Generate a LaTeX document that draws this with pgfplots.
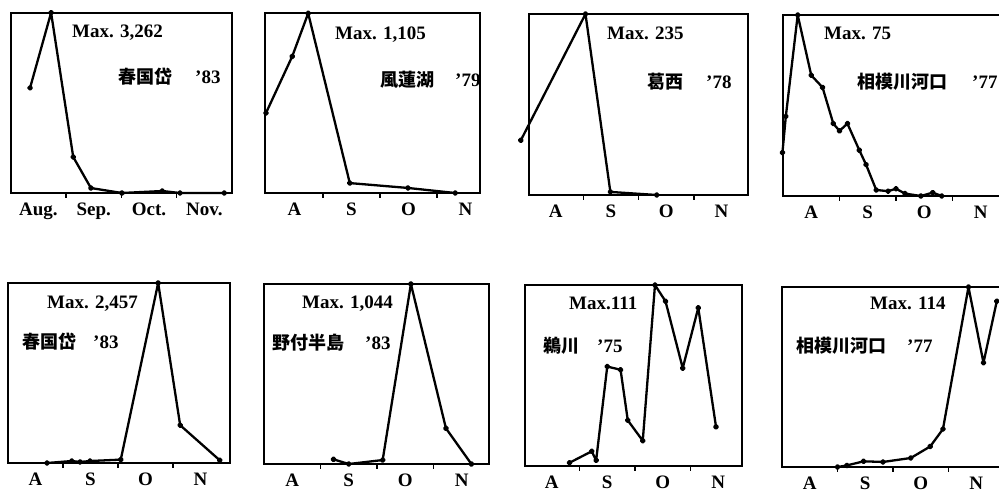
\documentclass[border=0pt]{standalone}
\usepackage{pgfplots}
\pgfplotsset{compat=1.18}
\usepackage{fontspec}
\setmainfont{Liberation Serif}
\newfontfamily\cjk{Noto Sans CJK JP}
\newcommand\lab{\fontsize{19}{19}\selectfont\bfseries}
\newcommand\cj{\fontsize{18}{18}\selectfont\cjk\bfseries}
\pgfplotsset{
  panel/.style={
    scale only axis, anchor=south west, clip=false,
    ymin=0,
    axis line style={line width=2pt},
    xtick={0.5,1.5,2.5,3.5},
    xticklabels={A,S,O,N},
    major tick length=0pt,
    minor xtick={1,2,3},
    minor tick length=4.5pt,
    minor tick style={line width=1.4pt, black},
    tick align=outside,
    xtick pos=lower,
    ytick=\empty,
    xticklabel style={font=\lab, yshift=-6.5pt},
  },
  dat/.style={line width=2.3pt, black, line join=round, mark=*, mark size=1.8pt, mark options={solid, fill=black}},
}
\begin{document}
\begin{tikzpicture}
% Row 1
\begin{axis}[panel, at={(10.7pt,298pt)}, width=221.3pt, height=180.3pt, xmin=0, xmax=4.0, ymax=3262,
  xticklabels={Aug.,Sep.,Oct.,Nov.}]
\addplot[dat] coordinates {(0.35,1902) (0.73,3262) (1.13,652) (1.45,90) (2.01,0) (2.74,36) (3.06,0) (3.86,0)};
\end{axis}
\begin{axis}[panel, at={(265pt,298pt)}, width=215pt, height=179.7pt, xmin=-0.0175, xmax=3.754, ymax=1105]
\addplot[dat] coordinates {(0,492) (0.46,840) (0.74,1105) (1.47,61) (2.49,31) (3.32,0)};
\end{axis}
\begin{axis}[panel, at={(529pt,296pt)}, width=219pt, height=181pt, xmin=0.018, xmax=3.98, ymax=235]
\addplot[dat] coordinates {(-0.13,71) (1.04,235) (1.49,4) (2.33,0)};
\end{axis}
\begin{axis}[panel, at={(783pt,295pt)}, width=218pt, height=181pt, xmin=0, xmax=3.858, ymax=75]
\addplot[dat] coordinates {(-0.01,18) (0.05,33) (0.26,75) (0.50,50) (0.70,45) (0.89,30) (1.0,27) (1.14,30) (1.35,19) (1.47,13) (1.65,2.5) (1.86,2) (2.0,3) (2.16,1) (2.44,0) (2.65,1.4) (2.81,0)};
\end{axis}
% Row 2
\begin{axis}[panel, at={(8pt,28pt)}, width=222pt, height=180pt, xmin=0, xmax=4.036, ymax=2457]
\addplot[dat] coordinates {(0.71,0) (1.16,27) (1.31,14) (1.49,27) (2.05,46) (2.73,2457) (3.13,516) (3.85,37)};
\end{axis}
\begin{axis}[panel, at={(264pt,27pt)}, width=225pt, height=180pt, xmin=0, xmax=3.982, ymax=1044]
\addplot[dat] coordinates {(1.23,27) (1.50,0) (2.10,23) (2.60,1044) (3.22,207) (3.67,0)};
\end{axis}
\begin{axis}[panel, at={(525pt,25pt)}, width=217pt, height=181pt, xmin=0.018, xmax=3.928, ymax=111]
\addplot[dat] coordinates {(0.82,2) (1.22,9) (1.30,3.5) (1.50,61) (1.74,59) (1.87,28) (2.14,15.5) (2.36,111) (2.55,101) (2.86,60) (3.14,97) (3.46,24)};
\end{axis}
\begin{axis}[panel, at={(782pt,24pt)}, width=219pt, height=180pt, xmin=0, xmax=3.946, ymax=114]
\addplot[dat] coordinates {(1.0,0) (1.17,1) (1.47,3.6) (1.82,3.2) (2.32,5.7) (2.67,13) (2.90,24) (3.36,114) (3.63,66) (3.87,105)};
\end{axis}
% annotations
\tikzset{lb/.style={anchor=base west, inner sep=0pt}}
\node[lb] at (72pt,453.5pt) {\lab Max. 3,262};
\node[lb] at (118pt,407.5pt) {\cj 春国岱};
\node[lb] at (195pt,407.5pt) {\lab ’83};
\node[lb] at (335pt,451.5pt) {\lab Max. 1,105};
\node[lb] at (380pt,404.5pt) {\cj 風蓮湖};
\node[lb] at (455pt,404.5pt) {\lab ’79};
\node[lb] at (607pt,451.5pt) {\lab Max. 235};
\node[lb] at (647pt,402.5pt) {\cj 葛西};
\node[lb] at (706pt,402.5pt) {\lab ’78};
\node[lb] at (824pt,451.5pt) {\lab Max. 75};
\node[lb] at (857pt,402.5pt) {\cj 相模川河口};
\node[lb] at (972pt,402.5pt) {\lab ’77};
\node[lb] at (47pt,182.5pt) {\lab Max. 2,457};
\node[lb] at (22pt,142.5pt) {\cj 春国岱};
\node[lb] at (93pt,142.5pt) {\lab ’83};
\node[lb] at (302pt,182.5pt) {\lab Max. 1,044};
\node[lb] at (272pt,141.5pt) {\cj 野付半島};
\node[lb] at (365pt,141.5pt) {\lab ’83};
\node[lb] at (569pt,181.5pt) {\lab Max.111};
\node[lb] at (543pt,138.5pt) {\cj 鵜川};
\node[lb] at (597pt,138.5pt) {\lab ’75};
\node[lb] at (870pt,181.5pt) {\lab Max. 114};
\node[lb] at (796pt,138.5pt) {\cj 相模川河口};
\node[lb] at (907pt,138.5pt) {\lab ’77};
\pgfresetboundingbox
\useasboundingbox (0pt,0pt) rectangle (999pt,491pt);
\end{tikzpicture}
\end{document}
